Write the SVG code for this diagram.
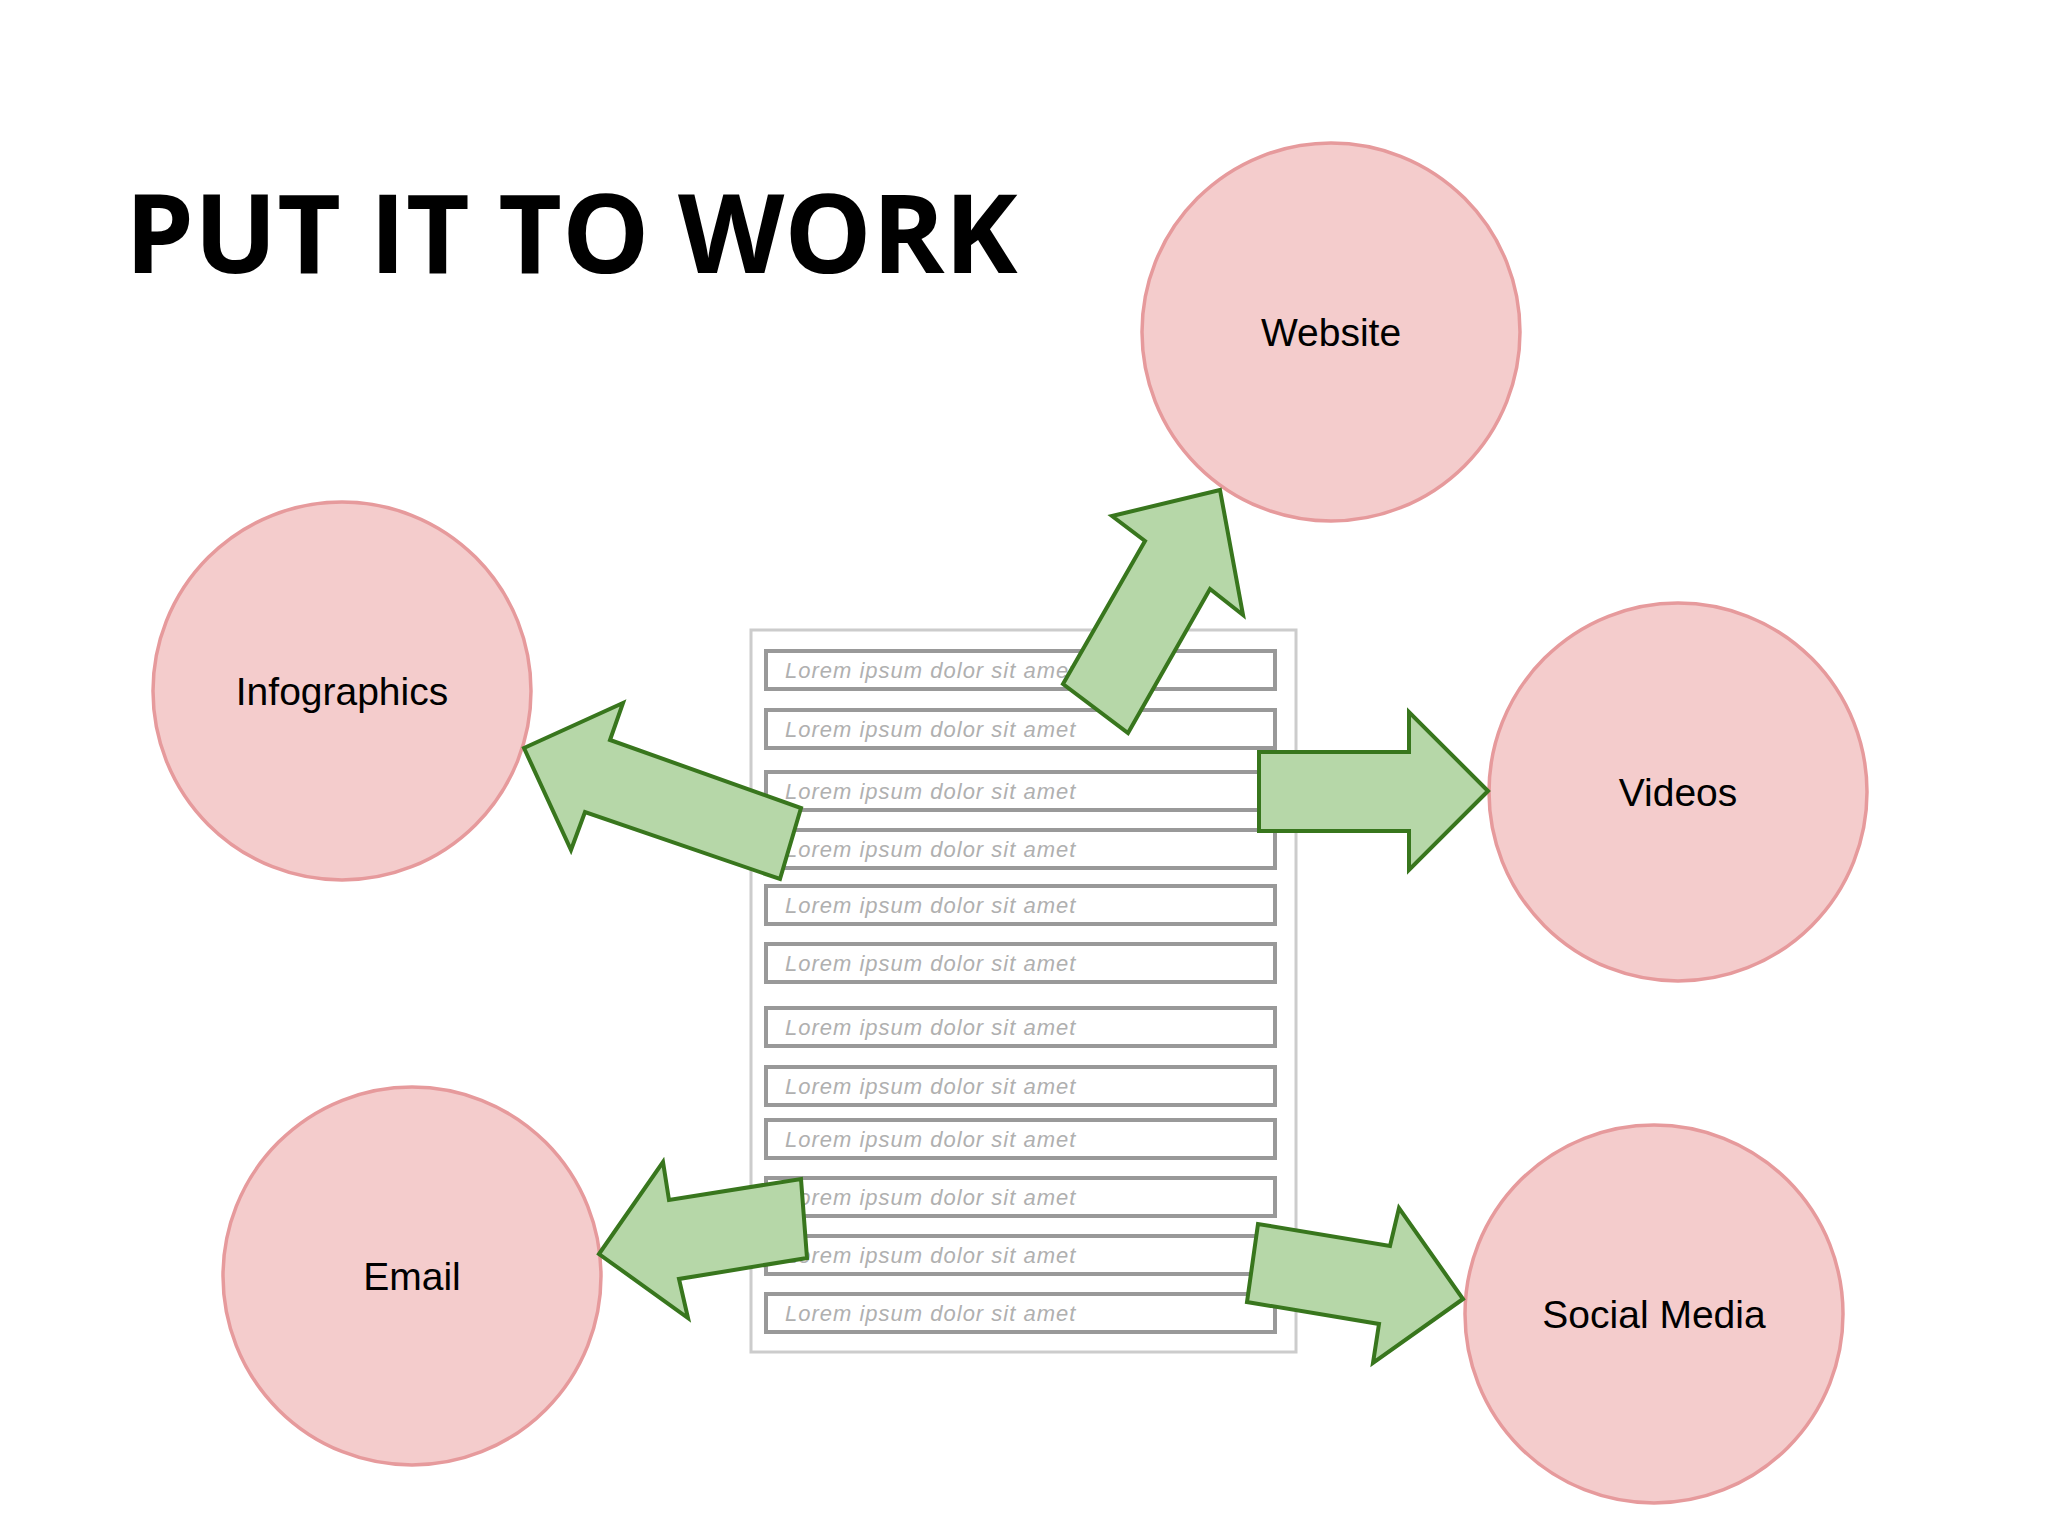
<svg xmlns="http://www.w3.org/2000/svg" width="2048" height="1536" viewBox="0 0 2048 1536">
<style>
.c{fill:#f4cccc;stroke:#e69a9c;stroke-width:3.5}
.l{font-family:"Liberation Sans",Arial,sans-serif;font-size:39px;fill:#000;text-anchor:middle}
.a{fill:#b6d7a8;stroke:#38761d;stroke-width:4;stroke-linejoin:miter}
.r{fill:#fff;stroke:#999;stroke-width:4}
.t{font-family:"Liberation Sans",Arial,sans-serif;font-style:italic;font-size:22px;fill:#b0b0b0;letter-spacing:1px}
</style>
<rect width="2048" height="1536" fill="#fff"/>
<text x="125" y="273" font-family="'Open Sans',sans-serif" font-weight="700" font-size="110" fill="#000">PUT IT TO WORK</text>
<g id="doc">
<rect x="751" y="630" width="545" height="722" fill="#fff" stroke="#ccc" stroke-width="3"/>
<g id="rows">
<rect class="r" x="766" y="651" width="509" height="38"/><text class="t" x="785" y="678">Lorem ipsum dolor sit amet</text>
<rect class="r" x="766" y="710" width="509" height="38"/><text class="t" x="785" y="737">Lorem ipsum dolor sit amet</text>
<rect class="r" x="766" y="772" width="509" height="38"/><text class="t" x="785" y="799">Lorem ipsum dolor sit amet</text>
<rect class="r" x="766" y="830" width="509" height="38"/><text class="t" x="785" y="857">Lorem ipsum dolor sit amet</text>
<rect class="r" x="766" y="886" width="509" height="38"/><text class="t" x="785" y="913">Lorem ipsum dolor sit amet</text>
<rect class="r" x="766" y="944" width="509" height="38"/><text class="t" x="785" y="971">Lorem ipsum dolor sit amet</text>
<rect class="r" x="766" y="1008" width="509" height="38"/><text class="t" x="785" y="1035">Lorem ipsum dolor sit amet</text>
<rect class="r" x="766" y="1067" width="509" height="38"/><text class="t" x="785" y="1094">Lorem ipsum dolor sit amet</text>
<rect class="r" x="766" y="1120" width="509" height="38"/><text class="t" x="785" y="1147">Lorem ipsum dolor sit amet</text>
<rect class="r" x="766" y="1178" width="509" height="38"/><text class="t" x="785" y="1205">Lorem ipsum dolor sit amet</text>
<rect class="r" x="766" y="1236" width="509" height="38"/><text class="t" x="785" y="1263">Lorem ipsum dolor sit amet</text>
<rect class="r" x="766" y="1294" width="509" height="38"/><text class="t" x="785" y="1321">Lorem ipsum dolor sit amet</text>
</g>
</g>
<g id="website"><circle class="c" cx="1331" cy="332" r="189"/><text class="l" x="1331" y="346">Website</text></g>
<g id="infographics"><circle class="c" cx="342" cy="691" r="189"/><text class="l" x="342" y="705">Infographics</text></g>
<g id="videos"><circle class="c" cx="1678" cy="792" r="189"/><text class="l" x="1678" y="806">Videos</text></g>
<g id="email"><circle class="c" cx="412" cy="1276" r="189"/><text class="l" x="412" y="1290">Email</text></g>
<g id="social"><circle class="c" cx="1654" cy="1314" r="189"/><text class="l" x="1654" y="1328">Social Media</text></g>
<g id="connectors">
<polygon class="a" points="1220,490 1243,615 1210,589 1128,733 1063,684 1145,541 1112,516"/>
<polygon class="a" points="1488,791 1409,870 1409,831 1259,831 1259,752 1409,752 1409,712"/>
<polygon class="a" points="524,748 623,703 610,740 801,808 780,879 585,812 571,850"/>
<polygon class="a" points="599,1254 663,1162 669,1200 801,1179 807,1258 679,1279 688,1318"/>
<polygon class="a" points="1463,1299 1373,1363 1379,1324 1247,1302 1258,1224 1390,1246 1399,1208"/>
</g>
</svg>
